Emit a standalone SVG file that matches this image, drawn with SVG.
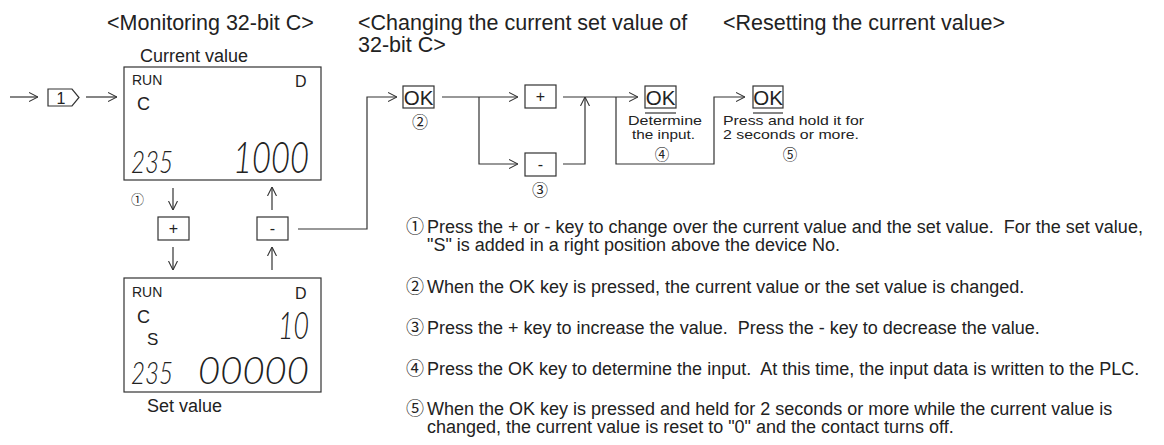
<svg xmlns="http://www.w3.org/2000/svg" width="1164" height="445" viewBox="0 0 1164 445">
<style>
text{font-family:"Liberation Sans","Noto Sans CJK JP",sans-serif;fill:#222}
.t{font-size:21.5px}
.lab{font-size:18px}
.note{font-size:18px}
.cn{font-family:"Noto Sans CJK JP","Liberation Sans",sans-serif}
.box{fill:#fff;stroke:#333;stroke-width:1.2}
.ln{fill:none;stroke:#333;stroke-width:1.2}
.seg{font-family:"Lato","Inter","Roboto",sans-serif;font-weight:300;font-style:italic}
.key{font-size:16px;text-anchor:middle}
.ok{font-size:20.5px;text-anchor:middle}
.small{font-size:13.5px}
</style>
<defs>
<marker id="arr" viewBox="0 0 10 10" refX="10" refY="5" markerWidth="9" markerHeight="10" markerUnits="userSpaceOnUse" orient="auto">
<path d="M0,0 L10,5 L0,10" fill="none" stroke="#333" stroke-width="1.2"/>
</marker>
</defs>
<rect width="1164" height="445" fill="#fff"/>

<g id="titles">
<text class="t" x="107" y="30">&lt;Monitoring 32-bit C&gt;</text>
<text class="t" x="358" y="30">&lt;Changing the current set value of</text>
<text class="t" x="358" y="52">32-bit C&gt;</text>
<text class="t" x="723" y="30">&lt;Resetting the current value&gt;</text>
</g>

<g id="connectors">
<line class="ln" x1="10" y1="97" x2="38" y2="97" marker-end="url(#arr)"/>
<line class="ln" x1="86" y1="97" x2="117" y2="97" marker-end="url(#arr)"/>
<line class="ln" x1="173" y1="188" x2="173" y2="210" marker-end="url(#arr)"/>
<line class="ln" x1="173" y1="247" x2="173" y2="270" marker-end="url(#arr)"/>
<line class="ln" x1="272" y1="270" x2="272" y2="247" marker-end="url(#arr)"/>
<line class="ln" x1="272" y1="210" x2="272" y2="187" marker-end="url(#arr)"/>
<polyline class="ln" points="298,229 367,229 367,97 397,97" marker-end="url(#arr)"/>
<line class="ln" x1="442" y1="97" x2="518" y2="97" marker-end="url(#arr)"/>
<polyline class="ln" points="479,97 479,164 518,164" marker-end="url(#arr)"/>
<line class="ln" x1="563" y1="97" x2="638" y2="97" marker-end="url(#arr)"/>
<polyline class="ln" points="563,164 585,164 585,97" marker-end="url(#arr)"/>
<polyline class="ln" points="616,97 616,164 714,164 714,97 745,97" marker-end="url(#arr)"/>
</g>

<g id="step1">
<polygon class="box" points="48,89 72,89 79,97.5 72,106 48,106"/>
<text class="key" x="61" y="104">1</text>
</g>

<g id="lcd-current">
<text class="lab" x="140" y="62">Current value</text>
<rect class="box" x="124" y="67" width="197" height="113"/>
<text x="132" y="85" style="font-size:14px">RUN</text>
<text x="295" y="87" style="font-size:16px">D</text>
<text x="137" y="110" style="font-size:18px">C</text>
<text class="seg" x="131" y="173" style="font-size:32px" textLength="42" lengthAdjust="spacingAndGlyphs">235</text>
<text class="seg" x="233" y="173" style="font-size:43px" textLength="76" lengthAdjust="spacingAndGlyphs">1000</text>
<text class="cn" x="131" y="204" style="font-size:13px">①</text>
</g>

<g id="key-plus-1">
<rect class="box" x="158" y="217" width="31" height="23"/>
<text class="key" x="173.5" y="234">+</text>
</g>

<g id="key-minus-1">
<rect class="box" x="257" y="217" width="31" height="23"/>
<text class="key" x="272.5" y="234">-</text>
</g>

<g id="lcd-set">
<rect class="box" x="124" y="278" width="197" height="114"/>
<text x="132" y="297" style="font-size:14px">RUN</text>
<text x="295" y="299" style="font-size:16px">D</text>
<text x="137" y="323" style="font-size:18px">C</text>
<text x="147" y="345" style="font-size:17px">S</text>
<text class="seg" x="278" y="339" style="font-size:37px" textLength="31" lengthAdjust="spacingAndGlyphs">10</text>
<text class="seg" x="131" y="384" style="font-size:31px" textLength="42" lengthAdjust="spacingAndGlyphs">235</text>
<text class="seg" x="198" y="384" style="font-size:37px" textLength="111" lengthAdjust="spacingAndGlyphs">00000</text>
<text class="lab" x="147" y="412">Set value</text>
</g>

<g id="ok-1">
<rect class="box" x="403" y="86" width="31" height="22"/>
<text class="ok" x="418.5" y="104.5">OK</text>
<text class="cn" x="420" y="128" style="font-size:16px;text-anchor:middle">②</text>
</g>

<g id="key-plus-2">
<rect class="box" x="525" y="85" width="31" height="23"/>
<text class="key" x="540.5" y="102">+</text>
</g>

<g id="key-minus-2">
<rect class="box" x="525" y="153" width="31" height="23"/>
<text class="key" x="540.5" y="170">-</text>
<text class="cn" x="540" y="196" style="font-size:16px;text-anchor:middle">③</text>
</g>

<g id="ok-2">
<rect class="box" x="645" y="86" width="31" height="22"/>
<text class="ok" x="660.5" y="104.5">OK</text>
<line class="ln" x1="645" y1="113" x2="676" y2="113"/>
<text class="small" x="628" y="125" textLength="74" lengthAdjust="spacingAndGlyphs">Determine</text>
<text class="small" x="632" y="139" textLength="63" lengthAdjust="spacingAndGlyphs">the input.</text>
<text class="cn" x="662" y="160" style="font-size:14.5px;text-anchor:middle">④</text>
</g>

<g id="ok-3">
<rect class="box" x="753" y="86" width="30" height="22"/>
<text class="ok" x="768" y="104.5">OK</text>
<line class="ln" x1="753" y1="113" x2="783" y2="113"/>
<text class="small" x="723" y="125" textLength="141" lengthAdjust="spacingAndGlyphs">Press and hold it for</text>
<text class="small" x="723" y="139" textLength="136" lengthAdjust="spacingAndGlyphs">2 seconds or more.</text>
<text class="cn" x="790" y="160" style="font-size:14.5px;text-anchor:middle">⑤</text>
</g>

<g id="notes">
<text class="note cn" x="406" y="233">①</text>
<text class="note" x="427" y="233" xml:space="preserve">Press the + or - key to change over the current value and the set value.  For the set value,</text>
<text class="note" x="427" y="251">"S" is added in a right position above the device No.</text>
<text class="note cn" x="406" y="293">②</text>
<text class="note" x="427" y="293">When the OK key is pressed, the current value or the set value is changed.</text>
<text class="note cn" x="406" y="334">③</text>
<text class="note" x="427" y="334" xml:space="preserve">Press the + key to increase the value.  Press the - key to decrease the value.</text>
<text class="note cn" x="406" y="375">④</text>
<text class="note" x="427" y="375" xml:space="preserve">Press the OK key to determine the input.  At this time, the input data is written to the PLC.</text>
<text class="note cn" x="406" y="415">⑤</text>
<text class="note" x="427" y="415">When the OK key is pressed and held for 2 seconds or more while the current value is</text>
<text class="note" x="427" y="433">changed, the current value is reset to "0" and the contact turns off.</text>
</g>
</svg>
